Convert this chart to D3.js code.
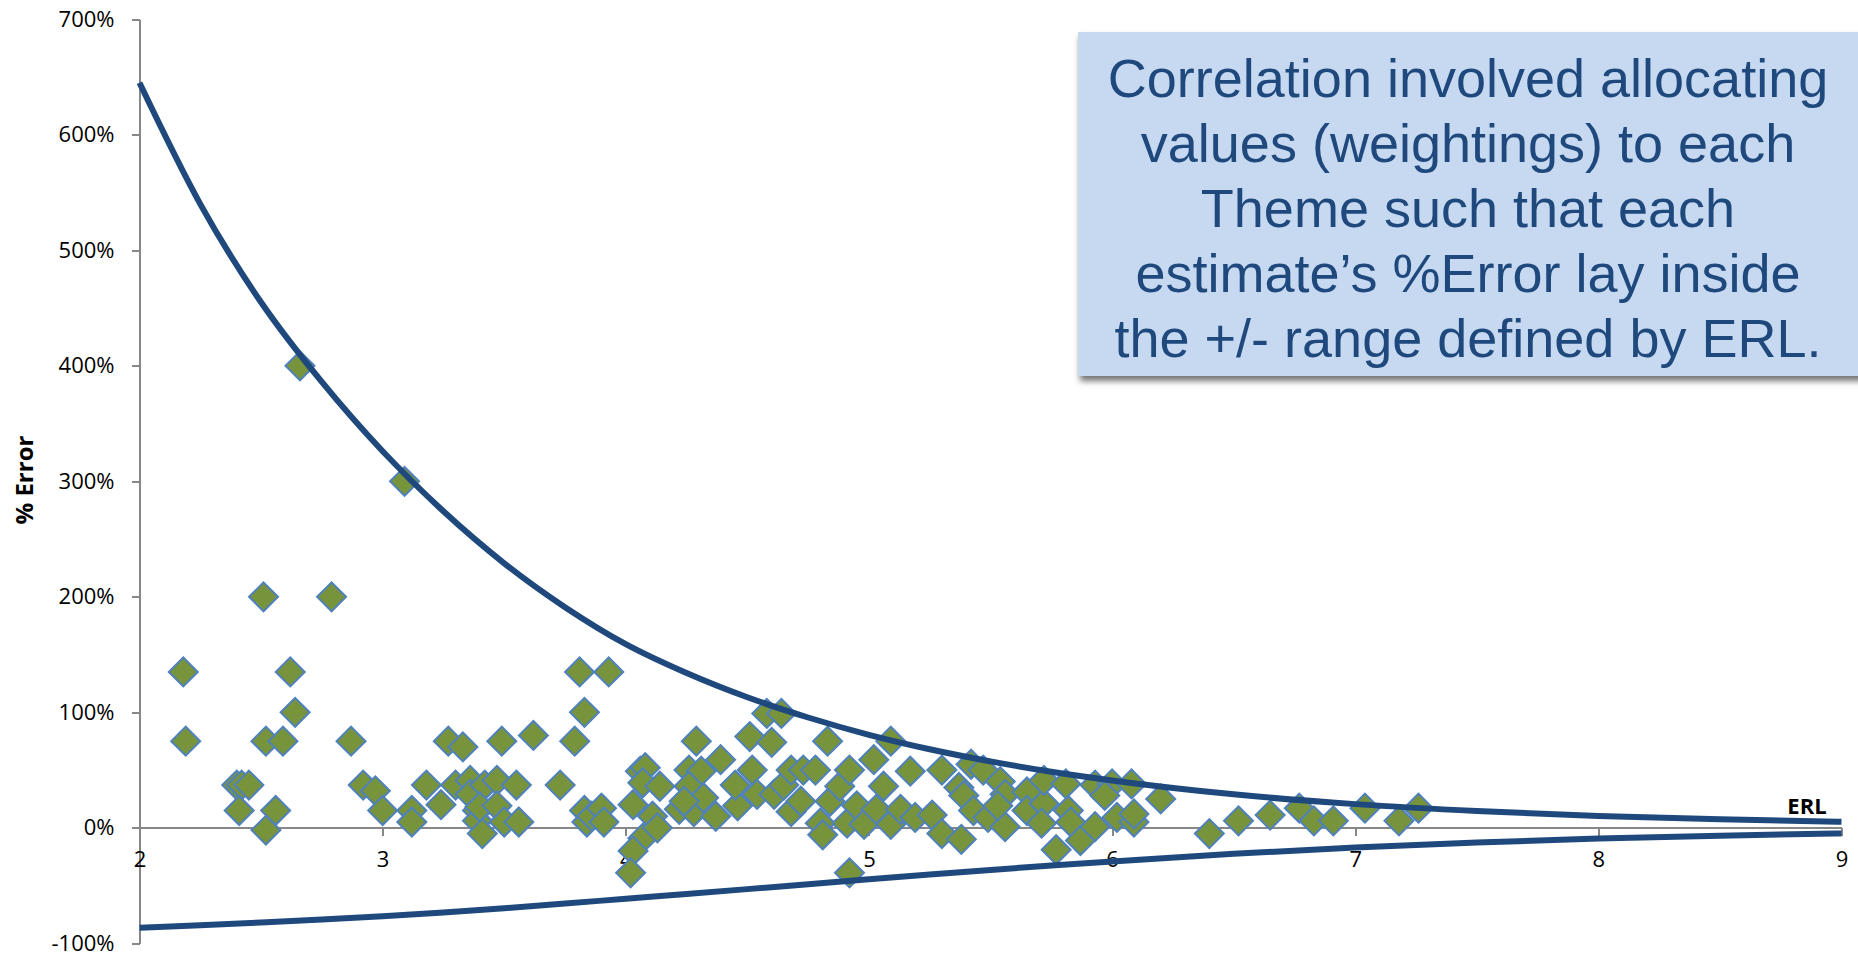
<!DOCTYPE html>
<html lang="en">
<head>
<meta charset="utf-8">
<title>% Error vs ERL</title>
<script src="https://cdn.jsdelivr.net/npm/d3@7"></script>
<style>
body { margin: 0; background: #fff; }
.axis path, .axis line {
  fill: none;
  stroke: #878787;
  stroke-width: 2;
  shape-rendering: crispEdges;
}
.axis text {
  font-family: "Open Sans", sans-serif;
  font-size: 22px;
  fill: #000;
}
</style>
</head>
<body>
<script>
var w = 1858;
var h = 954;

var xTicks = [2, 3, 4, 5, 6, 7, 8, 9];
var yTicks = [-100, 0, 100, 200, 300, 400, 500, 600, 700];

// ERL bound lines (% error)
var boundX     = [2, 2.25, 2.5, 2.75, 3, 3.25, 3.5, 3.75, 4, 4.25, 4.5, 4.75, 5, 5.25, 5.5, 5.75, 6, 6.5, 7, 7.5, 8, 8.5, 9];
var boundUpper = [645, 540, 455, 386, 326, 274, 229, 191, 159, 134, 113, 95.5, 80.5, 68, 57.5, 48.5, 41, 29, 20.5, 14.5, 10.3, 7.3, 5.2];
var boundLower = [-86.6, -84.4, -82.0, -79.4, -76.5, -73.3, -69.6, -65.6, -61.4, -57.3, -53.1, -48.8, -44.6,
                  -40.5, -36.5, -32.7, -29.1, -22.5, -17.0, -12.7, -9.3, -6.8, -4.9];

// estimates: ERL value and % error
var estERL = [
  2.18, 2.19, 2.40, 2.42, 2.45, 2.41, 2.51, 2.52, 2.52, 2.56, 2.59, 2.62, 2.64, 2.66,
  2.79, 2.87, 2.92, 2.97, 3.00, 3.09, 3.12, 3.12, 3.18, 3.24, 3.27, 3.30, 3.33,
  3.36, 3.36, 3.39, 3.39, 3.42, 3.40, 3.41, 3.47, 3.47, 3.49, 3.50, 3.55, 3.56, 3.62,
  3.73, 3.79, 3.81, 3.83, 3.83, 3.84, 3.86, 3.90, 3.91, 3.93,
  4.03, 4.06, 4.08, 4.07, 4.14, 4.11, 4.07, 4.03, 4.02, 4.13,
  4.29, 4.26, 4.31, 4.39, 4.26, 4.22, 4.28, 4.32, 4.37, 4.24,
  4.46, 4.45, 4.52, 4.54, 4.51, 4.60, 4.58, 4.64,
  4.61, 4.65, 4.68, 4.68, 4.73, 4.78, 4.72, 4.83,
  4.80, 4.81, 4.84, 4.88, 4.92, 4.91, 4.95, 4.98, 4.92,
  5.02, 5.06, 5.09, 5.03, 5.09, 5.13, 5.17, 5.19,
  5.26, 5.30, 5.30, 5.42, 5.47, 5.38, 5.37, 5.39, 5.43, 5.49,
  5.54, 5.56, 5.56, 5.53, 5.65, 5.65, 5.72, 5.71, 5.77,
  5.72, 5.81, 5.82, 5.83, 5.87, 5.93, 5.93, 6.00, 5.97, 6.02, 6.08, 6.09, 6.09, 6.20,
  6.40, 6.52, 6.65, 6.77, 6.83, 6.91, 7.04, 7.18, 7.26
];
var estErr = [
  135, 75, 37, 37, 37, 15, 200, 75, -2, 15, 75, 135, 100, 400,
  200, 75, 37, 32, 15, 300, 15, 5, 37, 20, 75, 37, 70,
  41, 29, 15, 6, 37, 18, -5, 41, 19, 75, 5, 37, 5, 80,
  37, 75, 135, 100, 15, 5, 10, 17, 5, 135,
  20, 49, 52, 39, 36, 10, -9, -20, -39, 0,
  75, 50, 49, 59, 36, 16, 14, 26, 10, 23,
  19, 37, 50, 29, 79, 74, 99, 99,
  29, 37, 50, 14, 50, 50, 23, 75,
  4, -6, 23, 36, 50, 4, 19, 3, -39,
  59, 36, 75, 16, 3, 16, 49, 9,
  11, 50, -5, 55, 50, -10, 35, 28, 15, 9,
  40, 29, 1, 19, 31, 15, 21, 4, -19,
  41, 38, 15, 5, -11, 1, 37, 38, 28, 9, 38, 5, 12, 25,
  -5, 6, 11, 17, 6, 6, 17, 6, 17
];

var noteLines = [
  "Correlation involved allocating",
  "values (weightings) to each",
  "Theme such that each",
  "estimate\u2019s %Error lay inside",
  "the +/- range defined by ERL."
];

var xScale = d3.scaleLinear().domain([2, 9]).range([139.5, 1841.5]);
var yScale = d3.scaleLinear().domain([-100, 700]).range([943.3, 19.3]);

var svg = d3.select("body").append("svg")
  .attr("width", w)
  .attr("height", h);

var defs = svg.append("defs");
var shadow = defs.append("filter").attr("id", "shadow")
  .attr("x", "-5%").attr("y", "-5%").attr("width", "115%").attr("height", "120%");
shadow.append("feDropShadow")
  .attr("dx", 2).attr("dy", 5).attr("stdDeviation", 3)
  .attr("flood-color", "#000").attr("flood-opacity", 0.55);

// y axis
svg.append("g")
  .attr("class", "axis")
  .attr("transform", "translate(" + xScale(2) + ",0)")
  .call(d3.axisLeft(yScale).tickValues(yTicks).tickSize(8).tickSizeOuter(0).tickPadding(17)
    .tickFormat(function (d) { return d + "%"; }));

// x axis sits on 0%
svg.append("g")
  .attr("class", "axis")
  .attr("transform", "translate(0," + yScale(0) + ")")
  .call(d3.axisBottom(xScale).tickValues(xTicks).tickSize(8).tickSizeOuter(0).tickPadding(16)
    .tickFormat(d3.format("d")));

svg.append("text")
  .attr("transform", "translate(33,480) rotate(-90)")
  .attr("text-anchor", "middle")
  .style("font-family", "'Open Sans', sans-serif")
  .style("font-weight", "bold")
  .style("font-size", "24px")
  .text("% Error");

// estimates
var diamond = d3.symbol().type(d3.symbolSquare).size(420);
svg.append("g").selectAll("path")
  .data(estERL)
  .enter().append("path")
  .attr("d", diamond)
  .attr("transform", function (d, i) {
    return "translate(" + xScale(d) + "," + yScale(estErr[i]) + ") rotate(45)";
  })
  .attr("fill", "#77933C")
  .attr("stroke", "#4F81BD")
  .attr("stroke-width", 2);

// ERL bounds
var upperLine = d3.line()
  .x(function (d) { return xScale(d); })
  .y(function (d, i) { return yScale(boundUpper[i]); })
  .curve(d3.curveMonotoneX);
var lowerLine = d3.line()
  .x(function (d) { return xScale(d); })
  .y(function (d, i) { return yScale(boundLower[i]); })
  .curve(d3.curveMonotoneX);

svg.append("path").datum(boundX)
  .attr("d", upperLine)
  .attr("fill", "none").attr("stroke", "#1F497D").attr("stroke-width", 6);
svg.append("path").datum(boundX)
  .attr("d", lowerLine)
  .attr("fill", "none").attr("stroke", "#1F497D").attr("stroke-width", 6);

svg.append("text")
  .attr("x", 1807).attr("y", 814)
  .attr("text-anchor", "middle")
  .style("font-family", "'Open Sans', sans-serif")
  .style("font-weight", "bold")
  .style("font-size", "22px")
  .text("ERL");

// note box
svg.append("rect")
  .attr("x", 1078).attr("y", 32)
  .attr("width", 820).attr("height", 344)
  .attr("fill", "#C6D9F1")
  .attr("filter", "url(#shadow)");

svg.append("g").selectAll("text")
  .data(noteLines)
  .enter().append("text")
  .attr("x", 1468)
  .attr("y", function (d, i) { return 97 + i * 65; })
  .attr("text-anchor", "middle")
  .style("font-family", "'Liberation Sans', Arial, sans-serif")
  .style("font-size", "54px")
  .attr("fill", "#1F497D")
  .text(function (d) { return d; });
</script>
</body>
</html>
